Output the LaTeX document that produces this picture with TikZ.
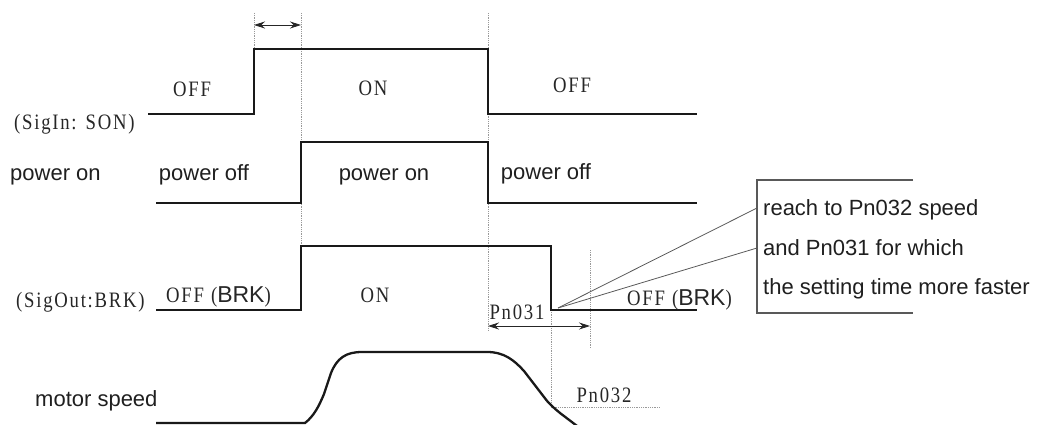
\documentclass[tikz,border=0pt]{standalone}
\usepackage{fontspec}
\setmainfont{Liberation Serif}
\newfontfamily\sansf{Liberation Sans}
\newfontfamily\narrowserif[FakeStretch=0.85,LetterSpace=8]{Liberation Serif}
\usetikzlibrary{arrows.meta}
\newcommand\BRKtext{{\sansf\fontsize{23}{23}\selectfont BRK}}
\begin{document}
\begin{tikzpicture}[x=1pt,y=-1pt,
  sig/.style={line width=2.3pt, black!90, line join=miter},
  guide/.style={gray!80, densely dotted, line width=0.8pt},
  callline/.style={gray!70!black, line width=0.8pt},
  boxline/.style={gray!70!black, line width=1.1pt},
  serif/.style={font=\narrowserif\fontsize{22}{22}\selectfont, inner sep=0pt, text=black!85},
  sans/.style={font=\sansf\fontsize{22}{22}\selectfont, inner sep=0pt, text=black!88},
  dimarrow/.style={line width=0.9pt, black!85, {Stealth[length=11pt,width=7pt]}-{Stealth[length=11pt,width=7pt]}},
]
\useasboundingbox (0,0) rectangle (1037,425);
\begin{scope}
\clip (0,0) rectangle (1037,425);

% guide lines
\coordinate (g1t) at (254,13);  \coordinate (g1b) at (254,49);
\coordinate (g2t) at (301,13);  \coordinate (g2b) at (301,246);
\coordinate (g3t) at (488,13);  \coordinate (g3b) at (488,330);
\coordinate (g4t) at (551,310); \coordinate (g4b) at (551,405);
\coordinate (g5t) at (590,250); \coordinate (g5b) at (590,348);
\coordinate (h1a) at (551,407); \coordinate (h1b) at (660,407);
\draw[guide] (g1t) -- (g1b);
\draw[guide] (g2t) -- (g2b);
\draw[guide] (g3t) -- (g3b);
\draw[guide] (g4t) -- (g4b);
\draw[guide] (g5t) -- (g5b);
\draw[guide] (h1a) -- (h1b);

% dimension arrows
\coordinate (d1a) at (254,25); \coordinate (d1b) at (301,25);
\draw[dimarrow] (d1a) -- (d1b);
\coordinate (d2a) at (488,326); \coordinate (d2b) at (590,326);
\draw[dimarrow] (d2a) -- (d2b);

% signals
\draw[sig] (148,114) -- (254,114) -- (254,49) -- (488,49) -- (488,114) -- (697,114);
\draw[sig] (156,203) -- (301,203) -- (301,142) -- (488,142) -- (488,203) -- (697,203);
\draw[sig] (156,310) -- (301,310) -- (301,246) -- (551,246) -- (551,310) -- (697,310);
\draw[sig] (156,423) -- (305,423)
  .. controls (314,416) and (319,406) .. (324,394)
  -- (331,373)
  .. controls (337,358) and (346,352) .. (362,352)
  -- (487,352)
  .. controls (504,352) and (514,360) .. (524,371)
  -- (544,397)
  .. controls (549,404) and (554,408) .. (560,413)
  -- (585,432);

% callout
\coordinate (cp) at (558,308);
\coordinate (bt1) at (757,208);
\coordinate (bt2) at (757,248);
\draw[callline] (cp) -- (bt1);
\draw[callline] (cp) -- (bt2);
\draw[boxline] (913,180) -- (757,180) -- (757,313) -- (913,313);
\end{scope}

% texts row 1
\node[serif, anchor=base] (off1) at (192,97) {OFF};
\node[serif, anchor=base] (on1) at (373,96) {ON};
\node[serif, anchor=base] (off2) at (572,93) {OFF};
\node[serif, anchor=base west] (sigin) at (14,130) {(SigIn:\kern9pt SON)};

% row 2
\node[sans, anchor=base west] (pwlab) at (10,181) {power on};
\node[sans, anchor=base] (pwoff1) at (204,181) {power off};
\node[sans, anchor=base] (pwon) at (384,181) {power on};
\node[sans, anchor=base] (pwoff2) at (546,180) {power off};

% row 3
\node[serif, anchor=base west] (sigout) at (16,307) {(SigOut:BRK)};
\node[serif, anchor=base west] (brk1) at (166,302) {OFF\kern7pt(\BRKtext)};
\node[serif, anchor=base] (on3) at (375,302) {ON};
\node[serif, anchor=base] (pn031) at (517,319) {Pn031};
\node[serif, anchor=base west] (brk2) at (627,305) {OFF\kern7pt(\BRKtext)};

% row 4
\node[sans, anchor=base west] (mslab) at (35,406) {motor speed};
\node[serif, anchor=base] (pn032) at (604,402) {Pn032};

% callout text
\node[sans, anchor=base west] (c1) at (763,215) {reach to Pn032 speed};
\node[sans, anchor=base west] (c2) at (763,255) {and Pn031 for which};
\node[sans, anchor=base west] (c3) at (763,294) {the setting time more faster};
\end{tikzpicture}
\end{document}
